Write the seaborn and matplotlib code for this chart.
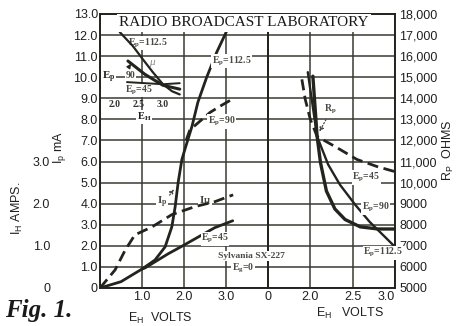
import matplotlib
matplotlib.use("Agg")
import matplotlib.pyplot as plt
import numpy as np
import pandas as pd
import seaborn as sns

sns.set_theme(style="white")
plt.rcParams["font.family"] = ["Liberation Sans", "DejaVu Sans"]
plt.rcParams["mathtext.default"] = "regular"

INK = "#24241e"
GRID = "#3a3a34"
SOFT = "#4a4a42"
SERIF = ["Liberation Serif", "DejaVu Serif"]

# ---- Left panel: plate current I_p (mA) against filament volts E_H
eh_ep112 = [0.0, 0.5, 1.0, 1.31, 1.55, 1.71, 1.79, 1.86, 1.95, 2.02, 2.19, 2.33, 2.54, 2.78, 3.04]
ip_ep112 = [0.0, 0.3, 0.9, 1.33, 1.95, 2.9, 3.86, 5.0, 6.1, 6.57, 7.67, 8.81, 10.0, 11.19, 12.29]

eh_ep90 = [2.05, 2.14, 2.43, 2.62, 2.88, 3.14]
ip_ep90 = [7.0, 7.5, 8.0, 8.33, 8.65, 8.95]

eh_ep45 = [1.0, 1.07, 1.62, 1.94, 2.26, 2.73, 3.16]
ip_ep45 = [0.9, 0.95, 1.62, 1.97, 2.33, 2.86, 3.19]

# heater current I_H (amps)
eh_ih = [0.0, 0.36, 0.6, 0.83, 1.24, 1.71, 2.26, 2.74, 3.17]
ih_amps = [0.0, 0.43, 0.9, 1.26, 1.45, 1.74, 1.93, 2.05, 2.21]

# amplification factor mu (small inset)
mu_eh112 = [2.1, 2.375, 2.58, 2.79, 3.0, 3.19, 3.35]
mu_ep112 = [9.91, 9.51, 9.14, 8.77, 8.43, 8.23, 8.14]
mu_eh90 = [2.27, 2.625, 3.0, 3.35]
mu_ep90 = [9.09, 8.71, 8.4, 8.29]
mu_eh45 = [2.25, 2.625, 3.0, 3.35]
mu_ep45 = [8.49, 8.46, 8.43, 8.46]

# ---- Right panel: plate resistance R_p (ohms)
rp_eh45 = [1.90, 1.94, 2.0, 2.08, 2.31, 2.55, 2.79, 3.0]
rp_ep45 = [14900, 13950, 13000, 12190, 11670, 11100, 10760, 10520]
rp_eh90 = [2.03, 2.08, 2.12, 2.19, 2.29, 2.41, 2.59, 2.80, 3.0]
rp_ep90 = [15050, 12190, 10950, 9600, 8750, 8250, 7900, 7800, 7800]
rp_eh112 = [1.97, 2.08, 2.21, 2.35, 2.53, 2.70, 2.88, 3.0]
rp_ep112 = [15240, 12190, 10860, 9900, 8950, 8140, 7430, 6950]

# axis tick values / labels
ip_ticks = list(range(0, 14))
ip_labels = ["0"] + [f"{v:.1f}" for v in ip_ticks[1:]]
ih_ticks = [0, 1, 2, 3]
ih_labels = ["0", "1.0", "2.0", "3.0"]
left_x_ticks = [0, 1, 2, 3, 4]
left_x_labels = ["", "1.0", "2.0", "3.0", ""]
right_x_ticks = [1.5, 2.0, 2.5, 3.0]
right_x_labels = ["0", "2.0", "2.5", "3.0"]
rp_ticks = list(range(5000, 18001, 1000))
rp_labels = [f"{v:,}" if v >= 10000 else str(v) for v in rp_ticks]

W, H = 459, 326
fig = plt.figure(figsize=(W / 100, H / 100), dpi=100)
fig.patch.set_facecolor("white")

x0, x1, x2 = 100, 268, 395
ytop, ybot = 14, 288
axL = fig.add_axes([x0 / W, 1 - ybot / H, (x1 - x0) / W, (ybot - ytop) / H])
axR = fig.add_axes([x1 / W, 1 - ybot / H, (x2 - x1) / W, (ybot - ytop) / H])


def style_frame(ax):
    ax.patch.set_visible(False)
    ax.grid(True, color=GRID, linewidth=1.1)
    ax.set_axisbelow(True)
    for s in ax.spines.values():
        s.set_color(INK)
        s.set_linewidth(1.4)
    ax.tick_params(length=0, labelsize=9, colors="#202020")


style_frame(axL)
style_frame(axR)

axL.set_xlim(0, 4)
axL.set_ylim(0, 13)
axL.set_xticks(left_x_ticks, left_x_labels)
axL.set_yticks(ip_ticks, ip_labels)
axL.tick_params(axis="y", pad=1.5)
axL.tick_params(axis="x", pad=2)

axR.set_xlim(1.5, 3.0)
axR.set_ylim(5000, 18000)
axR.set_xticks(right_x_ticks, right_x_labels)
axR.set_yticks(rp_ticks, rp_labels)
axR.yaxis.tick_right()
axR.tick_params(axis="y", pad=3)
axR.tick_params(axis="x", pad=2)
last = axR.get_xticklabels()[-1]
last.set_horizontalalignment("right")

# heater-current scale sharing the left frame
axH = axL.twinx()
axH.set_ylim(0, 6.5)
axH.patch.set_visible(False)
for s in axH.spines.values():
    s.set_visible(False)
axH.yaxis.set_ticks_position("left")
axH.set_yticks(ih_ticks, ih_labels)
axH.tick_params(axis="y", length=0, labelsize=9, colors="#202020", pad=36)
axH.grid(False)

# curves - left panel
lw = 2.0
sns.lineplot(x=eh_ep112, y=ip_ep112, ax=axL, color=INK, linewidth=lw, sort=False)
sns.lineplot(x=eh_ep45, y=ip_ep45, ax=axL, color=INK, linewidth=lw, sort=False)
sns.lineplot(x=eh_ep90, y=ip_ep90, ax=axL, color=INK, linewidth=lw, sort=False,
             linestyle=(0, (4, 2)))
sns.lineplot(x=eh_ih, y=ih_amps, ax=axH, color=INK, linewidth=lw, sort=False,
             linestyle=(0, (4, 2)))

# curves - right panel
sns.lineplot(x=rp_eh45, y=rp_ep45, ax=axR, color=INK, linewidth=lw, sort=False,
             linestyle=(0, (4, 2)))
sns.lineplot(x=rp_eh90, y=rp_ep90, ax=axR, color=INK, linewidth=lw + 0.4, sort=False)
sns.lineplot(x=rp_eh112, y=rp_ep112, ax=axR, color=INK, linewidth=lw - 0.3, sort=False)

# mu inset in the upper-left corner
axM = axL.inset_axes([0.014, 8.95, 2.056, 3.34], transform=axL.transData)
axM.set_xlim(1.7, 3.5)
axM.set_ylim(8.0, 10.0)
axM.patch.set_visible(False)
for s in axM.spines.values():
    s.set_visible(False)
axM.set_yticks([])
axM.set_xticks([2.0, 2.5, 3.0], ["2.0", "2.5", "3.0"])
axM.tick_params(axis="x", length=0, pad=0.5, labelsize=7, colors="#303030")
for t in axM.get_xticklabels():
    t.set_fontfamily(SERIF)
    t.set_fontweight("bold")
axM.set_xlabel("E$_H$", fontsize=7.5, family=SERIF, fontweight="bold", labelpad=1,
               color="#202020", bbox=dict(fc="white", ec="none", pad=0.6))
axM.grid(False)
sns.lineplot(x=mu_eh112, y=mu_ep112, ax=axM, color=INK, linewidth=1.6, sort=False)
sns.lineplot(x=mu_eh90, y=mu_ep90, ax=axM, color=INK, linewidth=2.2, sort=False)
sns.lineplot(x=mu_eh45, y=mu_ep45, ax=axM, color=INK, linewidth=1.4, sort=False)

lab = dict(family=SERIF, fontsize=7, color=SOFT, fontweight="bold",
           ha="center", va="center")
white = dict(fc="white", ec="none", pad=0.4)

# inset labels (left-axis data coordinates)
axL.text(1.14, 11.62, "E$_p$=112.5", bbox=white, **lab)
axL.text(1.24, 10.71, "μ", family=SERIF, fontsize=8, color="#8a8a80",
         style="italic", ha="center", va="center")
axL.text(0.2, 10.0, "E$_p$", bbox=white, **{**lab, "fontsize": 8, "color": INK})
axL.text(0.72, 10.08, "90", bbox=white, **lab)
axL.text(0.92, 9.38, "E$_p$=45", bbox=white, **lab)
axL.annotate("", xy=(0.78, 10.75), xytext=(0.64, 10.35),
             arrowprops=dict(arrowstyle="-|>", color=INK, lw=1.0, mutation_scale=6))

# main panel labels
axL.text(3.14, 10.76, "E$_p$=112.5", bbox=white, **lab)
axL.text(2.9, 7.9, "E$_p$=90", bbox=white, **lab)
axL.text(2.74, 2.33, "E$_p$=45", bbox=white, **lab)
axL.text(1.48, 4.05, "I$_p$", bbox=white, **{**lab, "fontsize": 8})
axL.text(2.5, 4.12, "I$_H$", bbox=white, **{**lab, "fontsize": 8})
axL.annotate("", xy=(1.8, 4.8), xytext=(1.62, 4.3),
             arrowprops=dict(arrowstyle="-|>", color=SOFT, lw=0.9, ls=":",
                             mutation_scale=6))

# tube note straddles both panels; drawn with the right panel so it sits on top
axR.text(1.30, 6520, "Sylvania SX-227", bbox=white, clip_on=False,
         **{**lab, "fontsize": 6.8})
axR.text(1.205, 5950, "E$_g$=0", bbox=white, clip_on=False, **lab)

# right panel labels
axR.text(2.23, 13480, "R$_p$", **lab)
axR.annotate("", xy=(2.09, 12300), xytext=(2.2, 13100),
             arrowprops=dict(arrowstyle="-|>", color=SOFT, lw=0.9, ls=":",
                             mutation_scale=6))
axR.text(2.66, 10240, "E$_p$=45", bbox=white, **lab)
axR.text(2.77, 8810, "E$_p$=90", bbox=white, **lab)
axR.text(2.86, 6670, "E$_p$=112.5", bbox=white, **lab)

# axis titles
axL.set_ylabel("I$_p$ mA", fontsize=9, color="#202020", rotation=90)
axL.yaxis.set_label_coords((68 - x0) / (x1 - x0), (ybot - 147) / (ybot - ytop))
axH.set_ylabel("I$_H$ AMPS.", fontsize=9, color="#202020", rotation=90)
axH.yaxis.set_label_position("left")
axH.yaxis.set_label_coords((25 - x0) / (x1 - x0), (ybot - 208) / (ybot - ytop))
axR.set_ylabel("R$_P$  OHMS", fontsize=9, color="#202020", rotation=90)
axR.yaxis.set_label_position("right")
axR.yaxis.set_label_coords((441 - x1) / (x2 - x1), (ybot - 150) / (ybot - ytop))

fig.text(160 / W, 1 - 318 / H, "E$_H$  VOLTS", fontsize=9, color="#202020",
         ha="center", va="center")
fig.text(350 / W, 1 - 313 / H, "E$_H$   VOLTS", fontsize=9, color="#202020",
         ha="center", va="center")

fig.text(244 / W, 1 - 23 / H, "RADIO BROADCAST LABORATORY", family=SERIF,
         fontsize=11, color="#1a1a1a", ha="center", va="center",
         bbox=dict(fc="white", ec="none", pad=1.5))
fig.text(5 / W, 1 - 310 / H, "Fig. 1.", family=SERIF, fontsize=18,
         fontweight="bold", style="italic", color="#1a1a1a", ha="left", va="center")

fig.savefig("out.png", dpi=100, facecolor="white")
